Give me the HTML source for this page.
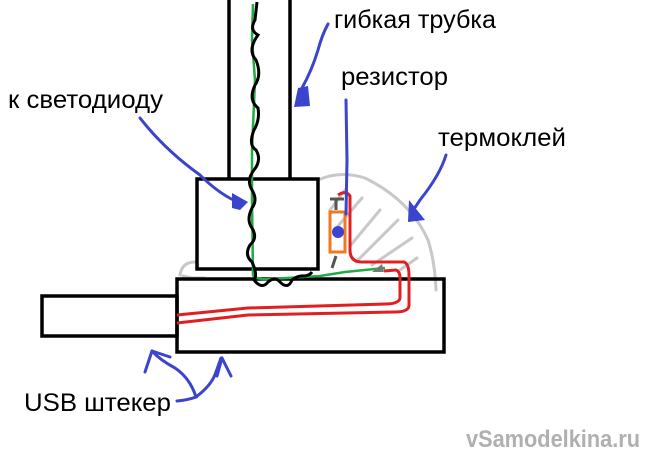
<!DOCTYPE html>
<html><head><meta charset="utf-8"><style>
html,body{margin:0;padding:0;background:#fff;}
svg{display:block;}
text{font-family:"Liberation Sans","DejaVu Sans",sans-serif;font-size:25px;fill:#000;}
</style></head><body>
<svg width="650" height="467" viewBox="0 0 650 467" xmlns="http://www.w3.org/2000/svg">
<!-- hot glue gray -->
<g fill="none" stroke="#c8c8c8" stroke-width="3" stroke-linecap="round">
<path d="M318 180 Q340 170 365 178 Q410 200 428 240 Q435 262 436 290"/>
<path d="M195 262 Q182 262 180 275"/>
<path d="M183 276 L192 278 L205 278"/>
<path d="M345 190 L330 210"/>
<path d="M362 198 L338 226"/>
<path d="M380 210 L350 246"/>
<path d="M398 220 L356 262"/>
<path d="M412 238 L372 265"/>
<path d="M417 258 L400 270"/>
</g>
<!-- tube -->
<g stroke="#000" stroke-width="3.5" fill="none">
<line x1="229" y1="0" x2="229" y2="179"/>
<line x1="290" y1="0" x2="290" y2="179"/>
<rect x="197" y="179" width="121" height="90" fill="#fff"/>
<rect x="177" y="279" width="267" height="73"/>
<rect x="42" y="296" width="135" height="40"/>
</g>
<!-- green wire -->
<path d="M253 4 L252 40 L255 80 L252 150 L252 200 L253 275 Q255 280 270 279 L320 276 L345 272 L385 268" fill="none" stroke="#22aa44" stroke-width="2.5"/>
<!-- black wavy wire -->
<path d="M257 2 L255 20 Q249 30 258 35 Q247 50 256 60 Q262 75 255 85 Q248 100 258 108 Q260 120 254 130 Q248 145 256 150 Q262 160 254 170 Q246 180 252 190 Q258 200 252 208 Q246 220 252 228 Q258 238 250 245 Q244 255 252 262 Q258 275 254 280 Q262 290 268 282 Q275 276 280 282 Q288 290 292 280 Q298 275 305 276 Q310 275 312 272" fill="none" stroke="#000" stroke-width="3"/>
<!-- resistor -->
<rect x="330" y="212" width="15" height="40" fill="none" stroke="#f07820" stroke-width="3"/>
<path d="M336 198 L336 210 M330 199 L344 199" stroke="#555" stroke-width="3"/>
<path d="M336 256 L332 268" stroke="#555" stroke-width="3"/>
<polygon points="372,272 382,264 384,272" fill="#777"/>
<!-- red wires -->
<path d="M338 195 Q346 190 350 196 L350 250 Q350 262 362 262 L404 262 Q409 264 409 275 L409 306 Q408 312 395 312 L248 315 L177 323" fill="none" stroke="#e02020" stroke-width="3"/>
<path d="M384 271 L396 270 Q401 272 400 282 L400 298 Q399 304 385 304 L248 308 L177 315" fill="none" stroke="#e02020" stroke-width="3"/>
<!-- blue arrows -->
<g fill="none" stroke="#3a44cc" stroke-width="3" stroke-linecap="round">
<path d="M328 24 Q322 35 318 50 Q312 70 302 88"/>
<path d="M140 118 Q165 150 200 175 Q220 195 240 203"/>
<path d="M346 100 L347 160 L346 214"/>
<path d="M446 155 Q440 175 420 200 L412 212"/>
<path d="M177 401 Q188 400 196 397 Q190 378 175 368 Q160 360 152 351"/>
<path d="M196 397 Q212 385 216 372 L221 358"/>
<path d="M152 351 L145 372"/>
<path d="M152 351 L170 357"/>
<path d="M222 358 L217 376 M222 358 L231 376"/>
</g>
<g fill="#3a44cc">
<polygon points="294,107 310,106 308,86 298,88"/>
<polygon points="232,193 248,202 240,210 232,208"/>
<circle cx="338" cy="232" r="6"/>
<polygon points="409,200 425,220 408,222"/>
</g>
<!-- labels -->
<text x="334" y="28" textLength="162" lengthAdjust="spacingAndGlyphs">гибкая трубка</text>
<text x="341" y="85" textLength="107" lengthAdjust="spacingAndGlyphs">резистор</text>
<text x="8" y="108" textLength="155" lengthAdjust="spacingAndGlyphs">к светодиоду</text>
<text x="438" y="146" textLength="128" lengthAdjust="spacingAndGlyphs">термоклей</text>
<text x="24" y="411" textLength="147" lengthAdjust="spacingAndGlyphs">USB штекер</text>
<text x="466" y="447" textLength="174" lengthAdjust="spacingAndGlyphs" style="font-size:24px;fill:#b0b0b0;font-weight:bold;">vSamodelkina.ru</text>
</svg>
</body></html>
